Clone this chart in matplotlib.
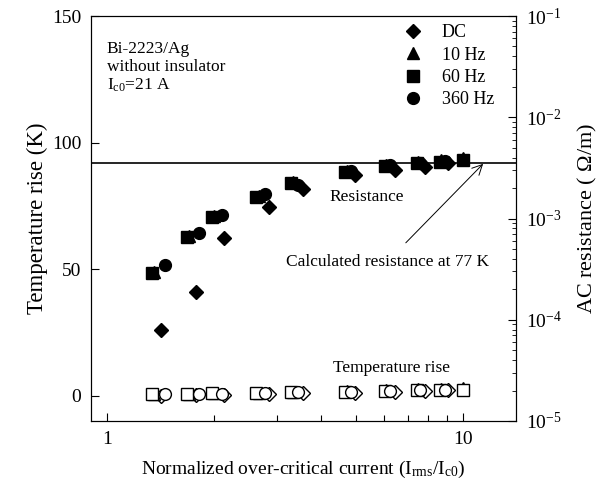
import matplotlib
matplotlib.use("Agg")
import matplotlib.pyplot as plt
from matplotlib.ticker import FixedLocator, FixedFormatter, NullFormatter, LogLocator

plt.rcParams["font.family"] = ["Liberation Serif", "DejaVu Serif"]
plt.rcParams["mathtext.fontset"] = "custom"
plt.rcParams["mathtext.rm"] = "Liberation Serif"
plt.rcParams["mathtext.it"] = "Liberation Serif:italic"
plt.rcParams["font.size"] = 13

# AC resistance (ohm/m) vs normalized current, filled markers, right axis
x_dc = [1.42, 1.78, 2.13, 2.85, 3.55, 4.97, 6.44, 7.82, 9.08]
r_dc = [7.9e-5, 1.9e-4, 6.4e-4, 1.3e-3, 1.95e-3, 2.7e-3, 3.0e-3, 3.2e-3, 3.5e-3]
x_10 = [1.36, 1.70, 2.00, 2.67, 3.34, 4.72, 6.10, 7.50, 8.70, 10.0]
r_10 = [2.95e-4, 6.7e-4, 1.05e-3, 1.68e-3, 2.28e-3, 2.95e-3, 3.4e-3, 3.6e-3, 3.8e-3, 4.0e-3]
x_60 = [1.34, 1.68, 1.97, 2.63, 3.30, 4.66, 6.04, 7.41, 8.62, 10.0]
r_60 = [2.9e-4, 6.6e-4, 1.04e-3, 1.64e-3, 2.24e-3, 2.9e-3, 3.3e-3, 3.5e-3, 3.65e-3, 3.8e-3]
x_360 = [1.46, 1.81, 2.10, 2.78, 3.45, 4.85, 6.25, 7.60, 8.90]
r_360 = [3.5e-4, 7.2e-4, 1.08e-3, 1.75e-3, 2.14e-3, 2.95e-3, 3.35e-3, 3.55e-3, 3.7e-3]

# temperature rise (K), open markers, left axis
t_dc = [0.0, 0.3, 0.2, 0.8, 1.0, 1.2, 1.6, 1.9, 2.2]
t_10 = [0.6, 0.8, 1.0, 1.2, 1.4, 1.8, 2.2, 2.5, 2.6, 3.2]
t_60 = [0.5, 0.8, 1.0, 1.2, 1.4, 1.6, 2.0, 2.2, 2.4, 2.4]
t_360 = [0.6, 0.8, 0.6, 1.2, 1.4, 1.5, 1.9, 2.2, 2.4]

r_calc = 3.5e-3  # calculated resistance at 77 K

fig = plt.figure(figsize=(6.03, 4.88), dpi=100)
ax = fig.add_axes([0.1509, 0.1373, 0.7048, 0.8299])
ax2 = ax.twinx()

series = [
    ("DC", "D", x_dc, r_dc, t_dc, 7.0),
    ("10 Hz", "^", x_10, r_10, t_10, 8.5),
    ("60 Hz", "s", x_60, r_60, t_60, 8.0),
    ("360 Hz", "o", x_360, r_360, t_360, 8.5),
]

for name, m, xs, rs, ts, s in series:
    ax.plot(xs, ts, ls="none", marker=m, ms=s, mfc="white", mec="black", mew=1.0)
    ax2.plot(xs, rs, ls="none", marker=m, ms=s, color="black", label=name)

ax2.axhline(r_calc, color="black", lw=1.2)

ax.set_xscale("log")
ax.set_xlim(0.902, 14.1)
ax.set_ylim(-10, 150)
ax2.set_yscale("log")
ax2.set_ylim(1e-5, 1e-1)

ax.xaxis.set_major_locator(FixedLocator([1, 10]))
ax.xaxis.set_major_formatter(FixedFormatter(["1", "10"]))
ax.xaxis.set_minor_locator(FixedLocator([2, 3, 4, 5, 6, 7, 8, 9]))
ax.xaxis.set_minor_formatter(NullFormatter())
ax.set_yticks([0, 50, 100, 150])
ax.tick_params(axis="both", which="both", direction="in", top=False, right=False)
ax.tick_params(which="major", length=6, width=0.8, labelsize=14, pad=7)
ax.tick_params(which="minor", length=4, width=0.8)
ax2.yaxis.set_major_locator(LogLocator(base=10, numticks=10))
ax2.yaxis.set_minor_locator(LogLocator(base=10, subs=range(2, 10), numticks=10))
ax2.tick_params(axis="y", which="both", direction="in", labelsize=14, pad=7)
ax2.tick_params(which="major", length=6)
ax2.tick_params(which="minor", length=3)

ax.set_xlabel(r"Normalized over-critical current (I$_{\rm rms}$/I$_{\rm c0}$)", fontsize=14, labelpad=8)
ax.set_ylabel("Temperature rise (K)", fontsize=16.5, labelpad=3)
ax2.set_ylabel(r"AC resistance ( $\Omega$/m)", fontsize=16, labelpad=10)

ax.text(1.0, 140, "Bi-2223/Ag\nwithout insulator\nI$_{\\rm c0}$=21 A",
        ha="left", va="top", fontsize=12.5, linespacing=1.15)
ax.text(5.38, 78.6, "Resistance", ha="center", va="center", fontsize=12.5)
ax.text(6.3, 11, "Temperature rise", ha="center", va="center", fontsize=12.5)
ax.annotate("Calculated resistance at 77 K", xy=(11.4, 91.6), xytext=(6.14, 53),
            ha="center", va="center", fontsize=12.5,
            arrowprops=dict(arrowstyle="->", lw=0.7, color="black",
                            mutation_scale=18, shrinkA=8, shrinkB=0))

ax2.legend(loc="upper left", bbox_to_anchor=(0.736, 0.98), frameon=False,
           handlelength=1.0, handletextpad=1.1, borderpad=0, borderaxespad=0,
           labelspacing=0.3, fontsize=13, numpoints=1)

fig.savefig("out.png", dpi=100)
